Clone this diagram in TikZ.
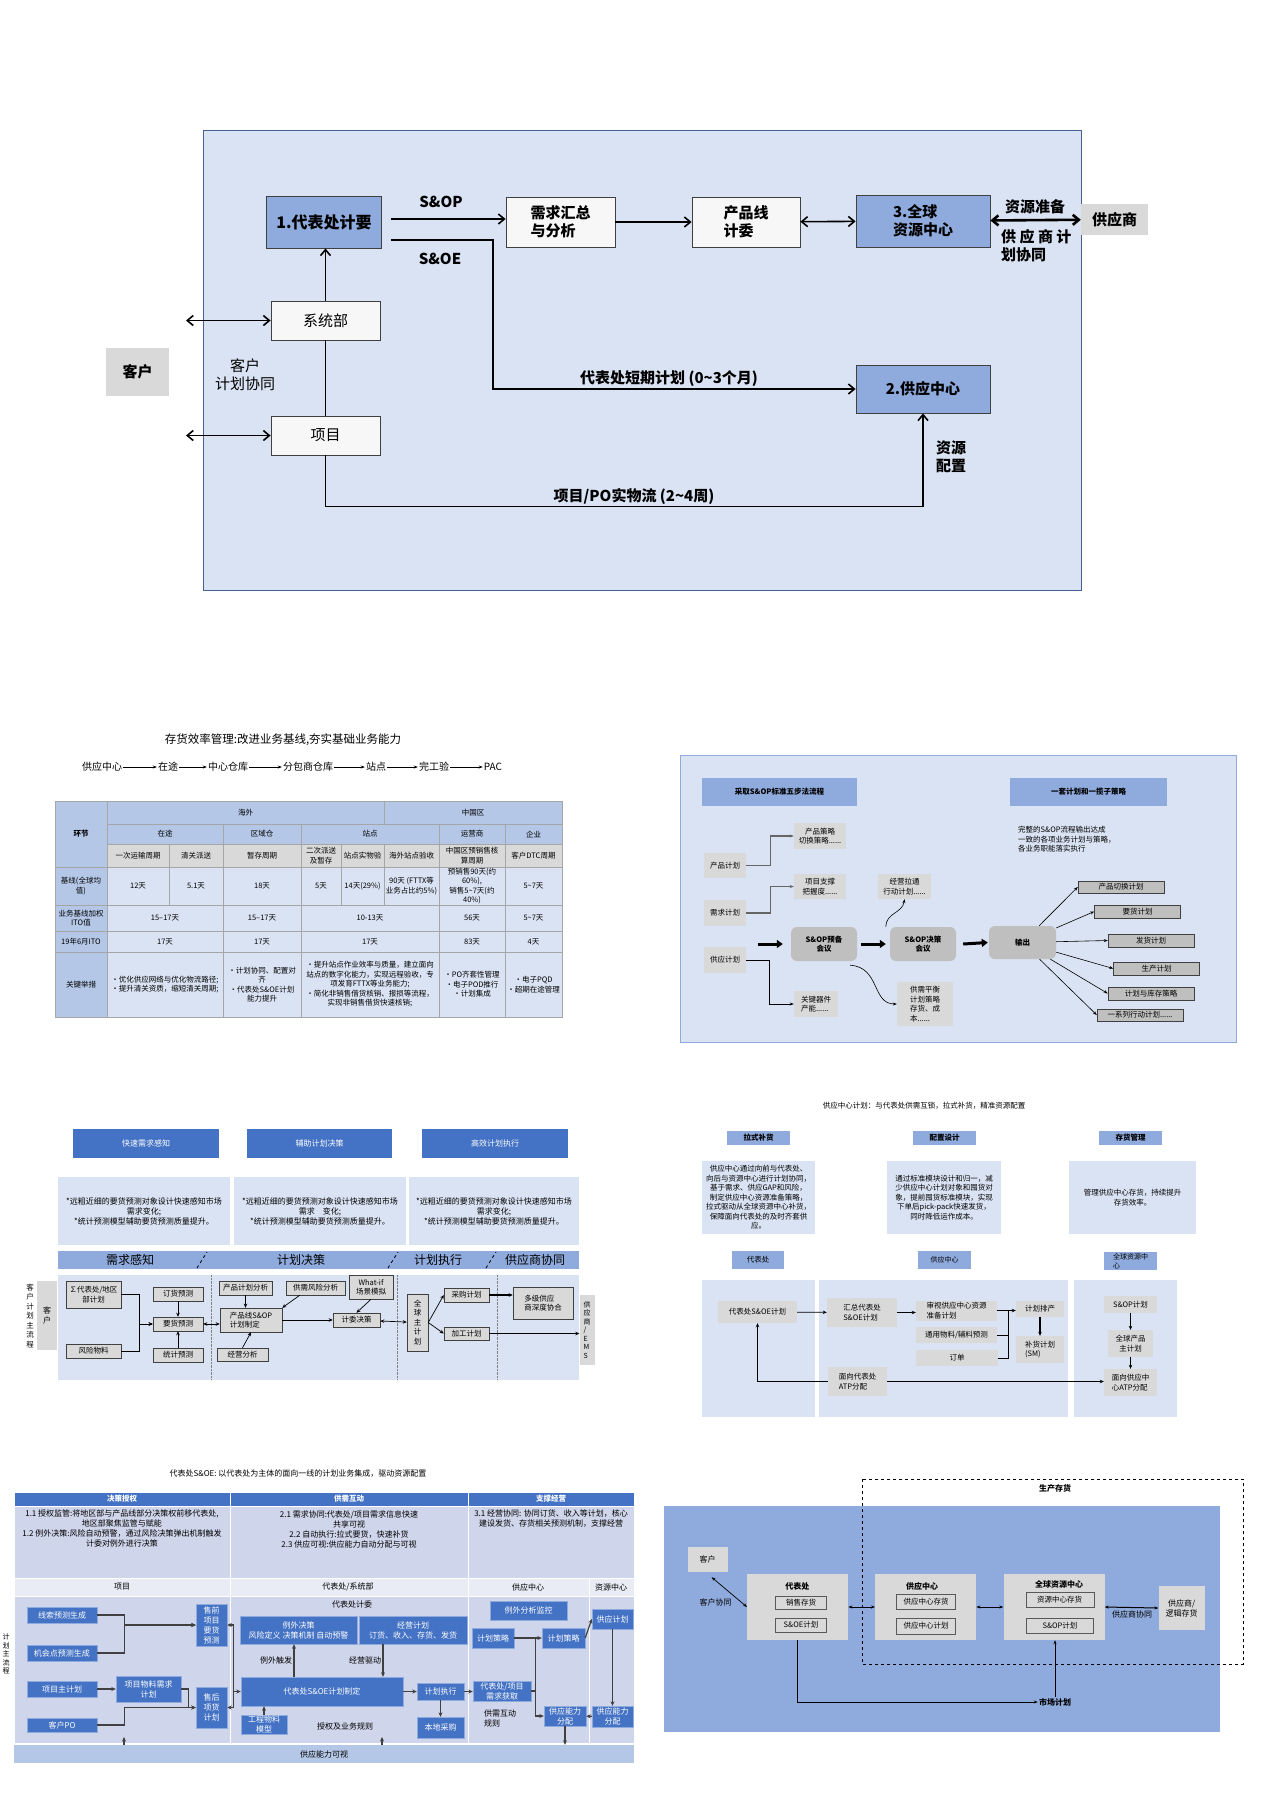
\documentclass[tikz,border=0pt]{standalone}
\usepackage{fontspec}
\setmainfont{Noto Sans CJK SC}
\usetikzlibrary{arrows.meta}
\XeTeXlinebreaklocale "zh"
\XeTeXlinebreakskip=0pt plus 1pt

\definecolor{paleblue}{HTML}{DAE3F3}
\definecolor{midblue}{HTML}{8FAADC}
\definecolor{headblue}{HTML}{B4C7E7}
\definecolor{deepblue}{HTML}{4472C4}
\definecolor{edgeblue}{HTML}{2F5597}
\definecolor{lgray}{HTML}{D9D9D9}
\definecolor{mgray}{HTML}{BFBFBF}
\definecolor{slate}{HTML}{CFD5EA}
\definecolor{mist}{HTML}{E9EBF5}
\definecolor{ink}{HTML}{404040}

\newcommand{\tildech}{\textasciitilde}
\newcommand{\sixdots}{......}

\tikzset{
  wh/.style 2 args={minimum width=#1pt,minimum height=#2pt},
  bigb/.style={font=\fontsize{16}{19}\selectfont\bfseries},
  midb/.style={font=\fontsize{15}{18}\selectfont\bfseries, align=center},
  midr/.style={font=\fontsize{15}{18}\selectfont, align=center},
  bandf/.style={font=\fontsize{12}{14}\selectfont},
  chainf/.style={font=\fontsize{10}{12}\selectfont},
  ttlf/.style={font=\fontsize{11.5}{14}\selectfont},
  mdf/.style={font=\fontsize{8}{10}\selectfont, align=center},
  mdb/.style={font=\fontsize{8}{10}\selectfont\bfseries, align=center},
  smf/.style={font=\fontsize{7.5}{9.5}\selectfont, align=center},
  smb/.style={font=\fontsize{7.5}{9.5}\selectfont\bfseries, align=center},
  xsf/.style={font=\fontsize{7}{8.5}\selectfont, align=center},
  % boxes
  bluebox/.style={draw=ink, fill=midblue, line width=0.8pt},
  whitebox/.style={draw=ink, fill=gray!6, line width=0.8pt},
  graybox/.style={fill=lgray},
  nbox/.style={draw=ink, fill=lgray, line width=0.5pt, smf},
  inbox/.style={draw=gray!70!black, fill=lgray, line width=0.4pt, smf},
  dbn/.style={draw=deepblue!60!white, fill=deepblue, text=white, mdf},
  pbox/.style={fill=paleblue},
  hdr/.style={fill=midblue, smb},
  hdr2/.style={fill=midblue, smf},
  dbhead/.style={fill=deepblue, text=white, mdf},
  pill/.style={fill=mgray, rounded corners=6pt, smb},
  outbox/.style={draw=ink, fill=mgray, line width=0.5pt, smf, wh={86}{12.5}},
  tcell/.style={smf},
  % lines
  topar/.style={line width=1.6pt, -{Straight Barb[length=6pt,width=10pt]}},
  topdar/.style={line width=1.6pt, {Straight Barb[length=6pt,width=10pt]}-{Straight Barb[length=6pt,width=10pt]}},
  fat/.style={line width=3pt, -{Triangle[length=6pt,width=8pt]}},
  elbow/.style={draw=ink!80, line width=1.1pt, -{Stealth[length=4pt]}},
  curv/.style={line width=0.6pt, -{Stealth[length=4pt]}},
  ln/.style={line width=0.7pt, -{Stealth[length=4pt,width=3.5pt]}},
  dln/.style={line width=0.7pt, {Stealth[length=4pt,width=3.5pt]}-{Stealth[length=4pt,width=3.5pt]}},
  cn/.style={draw=ink, line width=1.2pt, -{Stealth[length=4.5pt,width=4pt]}},
  dar2/.style={line width=0.7pt, {Stealth[length=4pt]}-{Stealth[length=4pt]}},
  ar2/.style={line width=0.8pt, -{Stealth[length=4pt]}},
}

\begin{document}
\begin{tikzpicture}[x=1pt,y=-1pt, every node/.append style={inner sep=1pt}]
\useasboundingbox (0,0) rectangle (1280,1800);
\fill[white] (0,0) rectangle (1280,1800);

% Top: 代表处 loop
\filldraw[fill=paleblue, draw=edgeblue!70!gray] (203,130) rectangle (1081,590);
\node[bluebox, bigb, wh={115}{52}] (dbc) at (324,222) {1.代表处计要};
\node[whitebox, midb, wh={109}{50}, align=left] (xqhz) at (560.5,222) {需求汇总\\与分析};
\node[whitebox, midb, wh={108}{50}, align=left] (cpx) at (746,222) {产品线\\计委};
\node[bluebox, midb, wh={134}{52}, align=left] (qqzy) at (923,221) {3.全球\\资源中心};
\node[graybox, midb, wh={67}{31}] (gys) at (1114.5,219.5) {供应商};
\node[whitebox, midr, wh={109}{39}] (xtb) at (325.5,320.5) {系统部};
\node[whitebox, midr, wh={109}{39}] (xm) at (325.5,435.5) {项目};
\node[graybox, midb, wh={63}{48}] (kh) at (137.5,372) {客户};
\node[bluebox, midb, wh={134}{48}] (gyzx) at (923,389) {2.供应中心};
\coordinate (kh1) at (186,320.5);
\coordinate (kh2) at (186,435.5);
\coordinate (sopA) at ([yshift=3pt]dbc.east);
% Flows
\draw[topar, shorten <=9pt] (sopA) -- (sopA -| xqhz.west);
\draw[topar] (xqhz) -- (cpx);
\draw[topdar] (cpx) -- (qqzy);
\draw[topdar, line width=2.6pt] (qqzy) -- (gys);
\draw[topar, shorten <=9pt] ([yshift=-18pt]dbc.east) -- ++(111,0) |- (gyzx.west);
\draw[topar] (xtb.north) -- (xtb.north |- dbc.south);
\draw[topdar] (kh1) -- (xtb);
\draw[topdar] (kh2) -- (xm);
\draw[line width=1.6pt] (xtb) -- (xm);
\draw[topar] (xm.south) -- ++(0,51) -| (gyzx.south);
% Labels
\node[midb] (lsop) at (441,202) {S\&OP};
\node[midb] (lsoe) at (440,259) {S\&OE};
\node[midb] (lzyzb) at (1035,207) {资源准备};
\node[midb, align=left, anchor=west] (lgyxt) at (1000,246) {供 应 商 计\\划协同};
\node[midr] (lkhjh) at (245,375) {客户\\计划协同};
\node[midb] (ldq) at (669,379) {代表处短期计划 (0\tildech3个月)};
\node[midb] (lzypz) at (951,457) {资源\\配置};
\node[midb] (lxmpo) at (634,496) {项目/PO实物流 (2\tildech4周)};

% Inventory efficiency table
\node[ttlf] (cxttl) at (283,740) {存货效率管理:改进业务基线,夯实基础业务能力};
\foreach \nm/\x/\tx in {c1/102/供应中心, c2/168/在途, c3/228/中心仓库, c4/308/分包商仓库, c5/376/站点, c6/434/完工验, c7/493/PAC}
  \node[chainf] (\nm) at (\x,767) {\tx};
\foreach \ua/\ub in {c1/c2, c2/c3, c3/c4, c4/c5, c5/c6, c6/c7}
  \draw[line width=0.6pt, -{Stealth[length=4pt]}] (\ua) -- (\ub);
% cells
\foreach \xa/\ya/\xb/\yb/\fc in {55/801/107/867/headblue, 107/801/384/824/headblue, 384/801/562/824/headblue,
    107/824/223/844/headblue, 223/824/301/844/headblue, 301/824/439/844/headblue, 439/824/505/844/headblue, 505/824/562/844/headblue,
    107/844/169/867/lgray, 169/844/223/867/lgray, 223/844/301/867/lgray, 301/844/341/867/lgray, 341/844/384/867/lgray, 384/844/439/867/lgray, 439/844/505/867/lgray, 505/844/562/867/lgray,
    55/867/107/905/headblue, 107/867/169/905/paleblue, 169/867/223/905/paleblue, 223/867/301/905/paleblue, 301/867/341/905/paleblue, 341/867/384/905/paleblue, 384/867/439/905/paleblue, 439/867/505/905/paleblue, 505/867/562/905/paleblue,
    55/905/107/931/headblue, 107/905/223/931/paleblue, 223/905/301/931/paleblue, 301/905/439/931/paleblue, 439/905/505/931/paleblue, 505/905/562/931/paleblue,
    55/931/107/952/headblue, 107/931/223/952/paleblue, 223/931/301/952/paleblue, 301/931/439/952/paleblue, 439/931/505/952/paleblue, 505/931/562/952/paleblue,
    55/952/107/1017/headblue, 107/952/223/1017/paleblue, 223/952/301/1017/paleblue, 301/952/439/1017/paleblue, 439/952/505/1017/paleblue, 505/952/562/1017/paleblue}
  \filldraw[fill=\fc, draw=gray!70] (\xa,\ya) rectangle (\xb,\yb);
% header text
\node[smb] (hjie) at (81,834) {环节};
\node[tcell] (hwai) at (245.5,812.5) {海外};
\node[tcell] (zgq) at (473,812.5) {中国区};
\node[tcell] (ztu) at (165,834) {在途};
\node[tcell] (qyc) at (262,834) {区域仓};
\node[tcell] (zdian) at (370,834) {站点};
\node[tcell] (yys) at (472,834) {运营商};
\node[tcell] (qye) at (533.5,834) {企业};
\node[tcell] (s1) at (138,855.5) {一次运输周期};
\node[tcell] (s2) at (196,855.5) {清关派送};
\node[tcell] (s3) at (262,855.5) {暂存周期};
\node[tcell] (s4) at (321,855.5) {二次派送\\及暂存};
\node[tcell] (s5) at (362.5,855.5) {站点实物验};
\node[tcell] (s6) at (411.5,855.5) {海外站点验收};
\node[tcell] (s7) at (472,855.5) {中国区预销售核\\算周期};
\node[tcell] (s8) at (533.5,855.5) {客户DTC周期};
% baseline rows
\node[tcell] (jx0) at (81,886) {基线(全球均\\值)};
\node[tcell] (jx1) at (138,886) {12天};
\node[tcell] (jx2) at (196,886) {5.1天};
\node[tcell] (jx3) at (262,886) {18天};
\node[tcell] (jx4) at (321,886) {5天};
\node[tcell] (jx5) at (362.5,886) {14天(29\%)};
\node[tcell] (jx6) at (411.5,886) {90天 (FTTX等\\业务占比约5\%)};
\node[tcell] (jx7) at (472,886) {预销售90天(约\\60\%),\\销售5\tildech7天(约\\40\%)};
\node[tcell] (jx8) at (533.5,886) {5\tildech7天};
\node[tcell] (ito0) at (81,918) {业务基线加权\\ITO值};
\node[tcell] (ito1) at (165,918) {15--17天};
\node[tcell] (ito2) at (262,918) {15--17天};
\node[tcell] (ito3) at (370,918) {10-13天};
\node[tcell] (ito4) at (472,918) {56天};
\node[tcell] (ito5) at (533.5,918) {5\tildech7天};
\node[tcell] (j190) at (81,941.5) {19年6月ITO};
\node[tcell] (j191) at (165,941.5) {17天};
\node[tcell] (j192) at (262,941.5) {17天};
\node[tcell] (j193) at (370,941.5) {17天};
\node[tcell] (j194) at (472,941.5) {83天};
\node[tcell] (j195) at (533.5,941.5) {4天};
\node[tcell] (gj0) at (81,984.5) {关键举措};
\node[tcell] (gj1) at (165,984.5) {•优化供应网络与优化物流路径;\\•提升清关资质，缩短清关周期;};
\node[tcell] (gj2) at (262,984.5) {•计划协同、配置对\\齐\\•代表处S\&OE计划\\能力提升};
\node[tcell] (gj3) at (370,984.5) {•提升站点作业效率与质量，建立面向\\站点的数字化能力，实现远程验收，专\\项发育FTTX等业务能力;\\•简化非销售借货核销、报损等流程，\\实现非销售借货快速核销;};
\node[tcell] (gj4) at (472,984.5) {•PO齐套性管理\\•电子POD推行\\•计划集成};
\node[tcell] (gj5) at (533.5,984.5) {•电子PQD\\•超期在途管理};

% S&OP five steps
\filldraw[fill=paleblue, draw=midblue, line width=0.8pt] (680,755) rectangle (1236,1042);
\node[hdr, wh={155}{28}] (h5) at (779.5,792) {采取S\&OP标准五步法流程};
\node[hdr, wh={157}{28}] (h1) at (1088.5,792) {一套计划和一揽子策略};
\node[graybox, smf, wh={42}{25}] (cpjh) at (725,865.5) {产品计划};
\node[graybox, smf, wh={42}{26}] (xqjh) at (725,913) {需求计划};
\node[graybox, smf, wh={42}{26}] (gyjh) at (725,960) {供应计划};
\node[graybox, smf, wh={52}{26}] (cpcl) at (820,836) {产品策略\\切换策略......};
\node[graybox, smf, wh={52}{25}] (xmzc) at (820,886.5) {项目支撑\\把握度......};
\node[graybox, smf, wh={44}{26}, align=left] (gjqj) at (816,1004) {关键器件\\产能......};
\node[pill, wh={66}{34}] (ybhy) at (824,944) {S\&OP预备\\会议};
\node[pill, wh={66}{34}] (jchy) at (923,944) {S\&OP决策\\会议};
\node[graybox, smf, wh={53}{25}] (jyla) at (904.5,886.5) {经营拉通\\行动计划......};
\node[graybox, smf, wh={56}{44}, align=left] (gxph) at (925,1004) {供需平衡\\计划策略\\存货、成\\本......};
\node[pill, wh={67}{33}] (sc) at (1022.5,942.5) {输出};
\node[smf, align=left, anchor=north west] (wz) at (1017,825) {完整的S\&OP流程输出达成\\一致的各项业务计划与策略，\\各业务职能落实执行};
\foreach \nm/\x/\y/\tx in {o1/1121/887/产品切换计划, o2/1137.5/911.5/要货计划, o3/1151/940.5/发货计划, o4/1156.5/968.5/生产计划, o5/1151/993.5/计划与库存策略, o6/1140/1015/一系列行动计划\sixdots}{
  \node[outbox] (\nm) at (\x,\y) {\tx};
  \draw[line width=0.6pt, -{Stealth[length=4pt]}] (sc) -- (\nm.west);
}
\coordinate (in0) at (758,944);
\draw[fat] (in0) -- ([xshift=-8pt]ybhy.west);
\draw[fat] ([xshift=4pt]ybhy.east) -- ([xshift=-4pt]jchy.west);
\draw[fat] ([xshift=7pt]jchy.east) -- ([xshift=-1pt]sc.west);
\draw[elbow] (cpjh.east) -- ++(24,0) |- (cpcl.west);
\draw[elbow] (xqjh.east) -- ++(24,0) |- (xmzc.west);
\draw[elbow, draw=black, line width=0.8pt] (gyjh.east) -- ++(23,0) |- (gjqj.west);
\draw[curv] ([xshift=-7pt,yshift=-4pt]ybhy.south east) .. controls +(30,2) and +(-25,0) .. (gxph.west);
\draw[curv] ([xshift=-4pt]jchy.north west) .. controls +(0,-14) and +(-2,14) .. (jyla.south);

% Demand sensing to supplier collaboration
\node[dbhead, wh={146}{29}] (kshd) at (146,1143.5) {快速需求感知};
\node[dbhead, wh={145}{29}] (fzhd) at (319.5,1143.5) {辅助计划决策};
\node[dbhead, wh={146}{29}] (gxhd) at (495,1143.5) {高效计划执行};
\node[pbox, mdf, wh={172}{68}] (ksnt) at (144,1211) {*远粗近细的要货预测对象设计快速感知市场\\需求变化;\\*统计预测模型辅助要货预测质量提升。};
\node[pbox, mdf, wh={172}{68}] (fznt) at (320,1211) {*远粗近细的要货预测对象设计快速感知市场\\需求\quad 变化;\\*统计预测模型辅助要货预测质量提升。};
\node[pbox, mdf, wh={170}{68}] (gxnt) at (494,1211) {*远粗近细的要货预测对象设计快速感知市场\\需求变化;\\*统计预测模型辅助要货预测质量提升。};
\fill[midblue] (58,1251) rectangle (579,1269);
\node[bandf] (bd1) at (130,1260) {需求感知};
\node[bandf] (bd2) at (301,1260) {计划决策};
\node[bandf] (bd3) at (438,1260) {计划执行};
\node[bandf] (bd4) at (535,1260) {供应商协同};
\foreach \x in {202,393,491}
  \draw[dashed, thick] (\x-5,1268) -- (\x+5,1252);
\fill[paleblue] (58,1275) rectangle (579,1380);
\foreach \x in {211,397,497}
  \draw[gray, densely dotted] (\x,1275) -- (\x,1380);
\node[smf] (lcz) at (30,1316) {客\\户\\计\\划\\主\\流\\程};
\node[graybox, mdf, wh={20}{69}] (khb) at (47,1315.5) {客\\户};
\node[nbox, wh={55}{27}] (sdb) at (93.5,1294.5) {∑代表处/地区\\部计划};
\node[nbox, wh={55}{14}] (fxwl) at (93.5,1351) {风险物料};
\node[nbox, wh={50}{14}] (dhyc) at (178,1294) {订货预测};
\node[nbox, wh={50}{14}] (yhyc) at (178,1324) {要货预测};
\node[nbox, wh={50}{14}] (tjyc) at (178,1355) {统计预测};
\node[nbox, wh={53}{14}] (cpfx) at (245.5,1288) {产品计划分析};
\node[nbox, wh={59}{14}] (gxfx) at (315.5,1288) {供需风险分析};
\node[nbox, wh={62}{24}, align=left] (cpsop) at (251,1320) {产品线S\&OP\\计划制定};
\node[nbox, wh={51}{13}] (jyfx) at (242.5,1354.5) {经营分析};
\node[nbox, wh={44}{24}] (whatif) at (371,1287) {What-if\\场景模拟};
\node[nbox, wh={47}{14}] (jwjc) at (356.5,1320) {计委决策};
\node[nbox, wh={21}{57}] (qqzjh) at (417.5,1322.5) {全\\球\\主\\计\\划};
\node[nbox, wh={45}{14}] (cgjh) at (466.5,1295) {采购计划};
\node[nbox, wh={45}{13}] (jgjh) at (466.5,1333.5) {加工计划};
\node[nbox, wh={60}{32}, align=left] (djgy) at (543,1303) {多级供应\\商深度协合};
\node[graybox, xsf, wh={15}{70}, align=left] (ems) at (587,1330) {供\\应\\商\\/\\E\\M\\S};
\draw[ln] (sdb.east) -- ++(18,0) |- (yhyc.west);
\draw[ln] (fxwl.east) -- ++(18,0) |- (yhyc.west);
\draw[ln] (dhyc) -- (yhyc);
\draw[ln] (tjyc) -- (yhyc);
\draw[dln] (yhyc.east) -- (yhyc.east -| cpsop.west);
\draw[ln] (cpfx.south) -- (cpfx.south |- cpsop.north);
\draw[ln] ([xshift=14pt]gxfx.south west) -- (cpsop.north east);
\draw[ln] (jyfx.north) -- (cpsop.south);
\draw[ln] (cpsop) -- (jwjc);
\draw[ln] (whatif.south) -- (jwjc.north);
\draw[dln] (jwjc) -- (qqzjh);
\draw[ln] (qqzjh.east) -- (cgjh.west);
\draw[ln] (qqzjh.east) -- (jgjh.west);
\draw[ln, line width=1.1pt] (cgjh.east) -- (cgjh.east -| djgy.west);
\draw[ln] (jgjh.east) -- (jgjh.east -| ems.west);

% Supply center plan
\node[smf] (scttl) at (924,1106) {供应中心计划：与代表处供需互锁，拉式补货，精准资源配置};
\node[hdr, wh={63}{14}] (lsbh) at (758.5,1138) {拉式补货};
\node[hdr, wh={63}{14}] (pzsj) at (944.5,1138) {配置设计};
\node[hdr, wh={63}{14}] (chgl) at (1130.5,1138) {存货管理};
\node[pbox, smf, wh={113}{73}] (lsnt) at (758.5,1197.5) {供应中心通过向前与代表处、\\向后与资源中心进行计划协同，\\基于需求、供应GAP和风险，\\制定供应中心资源准备策略，\\拉式驱动从全球资源中心补货，\\保障面向代表处的及时齐套供\\应。};
\node[pbox, smf, wh={114}{73}] (pznt) at (944,1197.5) {通过标准模块设计和归一，减\\少供应中心计划对象和囤货对\\象，提前囤货标准模块，实现\\下单后pick-pack快速发货，\\同时降低运作成本。};
\node[pbox, smf, wh={127}{73}] (chnt) at (1132.5,1197.5) {管理供应中心存货，持续提升\\存货效率。};
\node[hdr2, wh={52}{18}] (dbcb) at (758,1260) {代表处};
\node[hdr2, xsf, wh={53}{18}] (gyzxb) at (944.5,1260) {供应中心};
\node[hdr2, xsf, wh={53}{18}, align=left] (qqzyb) at (1130.5,1261) {全球资源中\\心};
\fill[paleblue] (702,1280) rectangle (815,1417);
\fill[paleblue] (819,1280) rectangle (1068,1417);
\fill[paleblue] (1074,1280) rectangle (1177,1417);
\node[graybox, smf, wh={79}{22}] (dsoe) at (757.5,1312) {代表处S\&OE计划};
\node[graybox, smf, wh={70}{29}, align=left] (hzsoe) at (862,1312.5) {汇总代表处\\S\&OE计划};
\node[graybox, smf, wh={81}{20}, align=left] (sszy) at (956.5,1310.5) {审视供应中心资源\\准备计划};
\node[graybox, smf, wh={81}{16}] (tywl) at (956.5,1335) {通用物料/辅料预测};
\node[graybox, smf, wh={82}{16}] (dd) at (957,1358) {订单};
\node[graybox, smf, wh={48}{16}] (jhpc) at (1040,1309) {计划排产};
\node[graybox, smf, wh={48}{27}, align=left] (bhjh) at (1040,1349.5) {补货计划\\(SM)};
\node[graybox, smf, wh={59}{29}, align=left] (atpa) at (857.5,1381.5) {面向代表处\\ATP分配};
\node[graybox, smf, wh={53}{17}] (sopjh) at (1130.5,1304.5) {S\&OP计划};
\node[graybox, smf, wh={45}{27}] (qqcp) at (1130.5,1343.5) {全球产品\\主计划};
\node[graybox, smf, wh={53}{27}, align=left] (atpb) at (1130.5,1382.5) {面向供应中\\心ATP分配};
\draw[ln] (dsoe) -- (hzsoe);
\draw[ln] (hzsoe.east) -- (hzsoe.east -| sszy.west);
\draw[ln] (sszy.east) -- (sszy.east -| jhpc.west);
\draw[line width=0.6pt] (tywl.east) -- ++(11,0);
\draw[line width=0.6pt] (dd.east) -| ([xshift=11pt]sszy.east);
\draw[ln, line width=1.2pt] (jhpc) -- (bhjh);
\draw[ln] (atpa.west) -| (dsoe.south);
\draw[ln] (atpa.east) -- (atpa.east -| atpb.west);
\draw[ln] (sopjh) -- (qqcp);
\draw[ln] (qqcp) -- (atpb);

% 代表处 S&OE
\node[mdf] (soettl) at (298,1474) {代表处S\&OE: 以代表处为主体的面向一线的计划业务集成，驱动资源配置};
\foreach \xa/\xb/\tx in {14/230/决策授权, 230/468/供需互动, 468/634/支撑经营}{
  \filldraw[fill=deepblue, draw=white] (\xa,1492) rectangle (\xb,1506);
  \node[smb, text=white] (hd\xa) at ({(\xa+\xb)/2},1499) {\tx};
  \filldraw[fill=slate, draw=white] (\xa,1506) rectangle (\xb,1578);
}
\node[mdf, anchor=north] (t11) at (122,1509) {1.1 授权监管:将地区部与产品线部分决策权前移代表处,\\地区部聚焦监管与赋能\\1.2 例外决策:风险自动预警，通过风险决策弹出机制触发\\计委对例外进行决策};
\node[mdf, anchor=north] (t21) at (349,1509) {2.1 需求协同:代表处/项目需求信息快速\\共享可视\\2.2 自动执行:拉式要货，快速补货\\2.3 供应可视:供应能力自动分配与可视};
\node[mdf, anchor=north] (t31) at (551,1509) {3.1 经营协同: 协同订货、收入等计划，核心\\建设发货、存货相关预测机制，支撑经营};
\foreach \xa/\xb in {14/230, 230/468, 468/589, 589/634}{
  \filldraw[fill=mist, draw=white] (\xa,1578) rectangle (\xb,1596);
  \filldraw[fill=slate, draw=white] (\xa,1596) rectangle (\xb,1743);
}
\node[mdf] (cl1) at (122,1587) {项目};
\node[mdf] (cl2) at (348,1587) {代表处/系统部};
\node[mdf] (cl3) at (528,1587) {供应中心};
\node[mdf] (cl4) at (611,1587) {资源中心};
\node[fill=headblue, wh={620}{18}, mdf] (nlbar) at (324,1754) {供应能力可视};
\node[xsf] (lzlc) at (6,1654) {计\\划\\主\\流\\程};
\node[dbn, wh={70}{16}] (xsyc) at (62,1615) {线索预测生成};
\node[dbn, wh={70}{16}] (jhyc) at (62,1653) {机会点预测生成};
\node[dbn, wh={70}{16}] (xmzjh) at (62,1689) {项目主计划};
\node[dbn, wh={70}{14}] (khpo) at (62,1725) {客户PO};
\node[dbn, wh={65}{26}] (xmwl) at (148.5,1689) {项目物料需求\\计划};
\node[dbn, wh={31}{42}] (sqyc) at (211.5,1625) {售前\\项目\\要货\\预测};
\node[dbn, wh={31}{41}] (shjh) at (211.5,1707.5) {售后\\项货\\计划};
\node[dbn, wh={117}{28}] (lwjc) at (298.5,1630) {例外决策\\风险定义\ 决策机制\ 自动预警};
\node[dbn, wh={108}{28}] (jyjh) at (413,1630) {经营计划\\订货、收入、存货、发货};
\node[dbn, wh={162}{29}] (soezd) at (322,1691.5) {代表处S\&OE计划制定};
\node[dbn, wh={46}{19}] (gcwl) at (264,1724.5) {工程物料\\模型};
\node[dbn, wh={47}{17}] (jhzx) at (440.5,1691.5) {计划执行};
\node[dbn, wh={47}{21}] (bdcg) at (440.5,1727.5) {本地采购};
\node[dbn, wh={77}{19}] (lwfx) at (528.5,1610.5) {例外分析监控};
\node[dbn, wh={42}{20}] (clA) at (493,1638) {计划策略};
\node[dbn, wh={43}{20}] (clB) at (563.5,1638) {计划策略};
\node[dbn, wh={58}{20}] (xqhq) at (502,1691) {代表处/项目\\需求获取};
\node[dbn, wh={42}{20}] (fpA) at (565,1716) {供应能力\\分配};
\node[dbn, wh={41}{20}] (gyjhB) at (612.5,1619) {供应计划};
\node[dbn, wh={41}{21}] (fpB) at (612.5,1716.5) {供应能力\\分配};
\node[mdf] (ljw) at (352,1604) {代表处计委};
\node[mdf] (lcf) at (276,1660) {例外触发};
\node[mdf] (lqd) at (365,1660) {经营驱动};
\node[mdf] (lgz) at (345,1726) {授权及业务规则};
\node[mdf, align=left, anchor=west] (lhd) at (483,1718) {供需互动\\规则};
\coordinate (brk) at ([xshift=6pt]sqyc.east);
\coordinate (trg) at ([xshift=-28pt]soezd.north);
\coordinate (drv) at ([xshift=-30pt]jyjh.south);
\coordinate (jn) at ([xshift=4pt]xqhq.east);
\coordinate (upA) at (124,1737);
\coordinate (upB) at (382,1737);
\draw[cn] (xsyc.east) -- ++(27,0) |- (sqyc.west);
\draw[cn] (jhyc.east) -- ++(27,0) |- (sqyc.west);
\draw[cn] (xmzjh) -- (xmwl);
\draw[cn] (xmwl.east) -- ++(7,0) |- (shjh.west);
\draw[cn] (khpo.east) -- ++(27,0) |- (shjh.west);
\draw[cn, {Stealth[length=4.5pt,width=4pt]}-{Stealth[length=4.5pt,width=4pt]}] (sqyc.east) -- (brk) |- (shjh.east);
\draw[cn] (brk |- soezd.west) -- (soezd.west);
\draw[cn] (trg) -- (trg |- lwjc.south);
\draw[cn] (drv) -- (drv |- soezd.north);
\draw[cn] (gcwl.north) -- (gcwl.north |- soezd.south);
\draw[cn] (soezd.east) -- (soezd.east -| jhzx.west);
\draw[cn] (jhzx.east) -- (jhzx.east -| xqhq.west);
\draw[cn] (jhzx) -- (bdcg);
\draw[cn] (clA) -- (clB);
\draw[cn] (xqhq.east) -- (jn) |- (fpA.west);
\draw[cn, -] (jn) -- (jn |- clA.east);
\draw[cn] (clB.east) -- (gyjhB.west);
\draw[cn] (gyjhB) -- (fpB);
\draw[cn] (fpB) -- (fpA);
\draw[cn] (fpA.south) -- (fpA.south |- nlbar.north);
\draw[cn] (upA |- nlbar.north) -- (upA);
\draw[cn] (upB |- nlbar.north) -- (upB);

% Inventory layers
\fill[midblue] (664,1506) rectangle (1220,1732);
\draw[dashed, line width=0.7pt] (862,1479) rectangle (1243,1664);
\node[mdb] (scch) at (1055,1488) {生产存货};
\node[graybox, mdf, wh={40}{25}] (khC) at (707.6,1559.5) {客户};
\node[graybox, wh={101}{66}] (dbcC) at (797.7,1607) {};
\node[mdb] (dbcT) at (797.4,1586) {代表处};
\node[inbox, wh={51}{13}] (xsch) at (801,1602.5) {销售存货};
\node[inbox, wh={51}{14}] (soeC) at (801,1625) {S\&OE计划};
\node[graybox, wh={101}{66}] (gyzxC) at (925.7,1607) {};
\node[mdb] (gyzxT) at (922,1586) {供应中心};
\node[inbox, wh={59}{15}] (gych) at (926,1601.5) {供应中心存货};
\node[inbox, wh={59}{16}] (gyjhC) at (926,1626) {供应中心计划};
\node[graybox, wh={101}{66}] (qqzyC) at (1054,1607) {};
\node[mdb] (qqzyT) at (1059,1584) {全球资源中心};
\node[inbox, wh={68}{15}] (zych) at (1059.7,1599.5) {资源中心存货};
\node[inbox, wh={67}{15}] (sopC) at (1060,1625.5) {S\&OP计划};
\node[graybox, mdf, wh={46}{44}] (gysC) at (1181.6,1608) {供应商/\\逻辑存货};
\node[mdf] (lkhxt) at (715.7,1602) {客户协同};
\node[mdf] (lgyxt2) at (1132,1614) {供应商协同};
\node[mdb] (scjh) at (1055,1702) {市场计划};
\draw[dar2] ([xshift=4pt,yshift=-5pt]khC.south) -- (dbcC.west);
\draw[dar2] (dbcC.east) -- (gyzxC.west);
\draw[dar2] (gyzxC.east) -- (qqzyC.west);
\draw[dar2, line width=1pt] (qqzyC.east) -- (gysC.west);
\draw[ar2] (dbcC.south) |- (scjh.west);
\draw[ar2] (scjh.north) -- (scjh.north |- qqzyC.south);
\end{tikzpicture}
\end{document}
